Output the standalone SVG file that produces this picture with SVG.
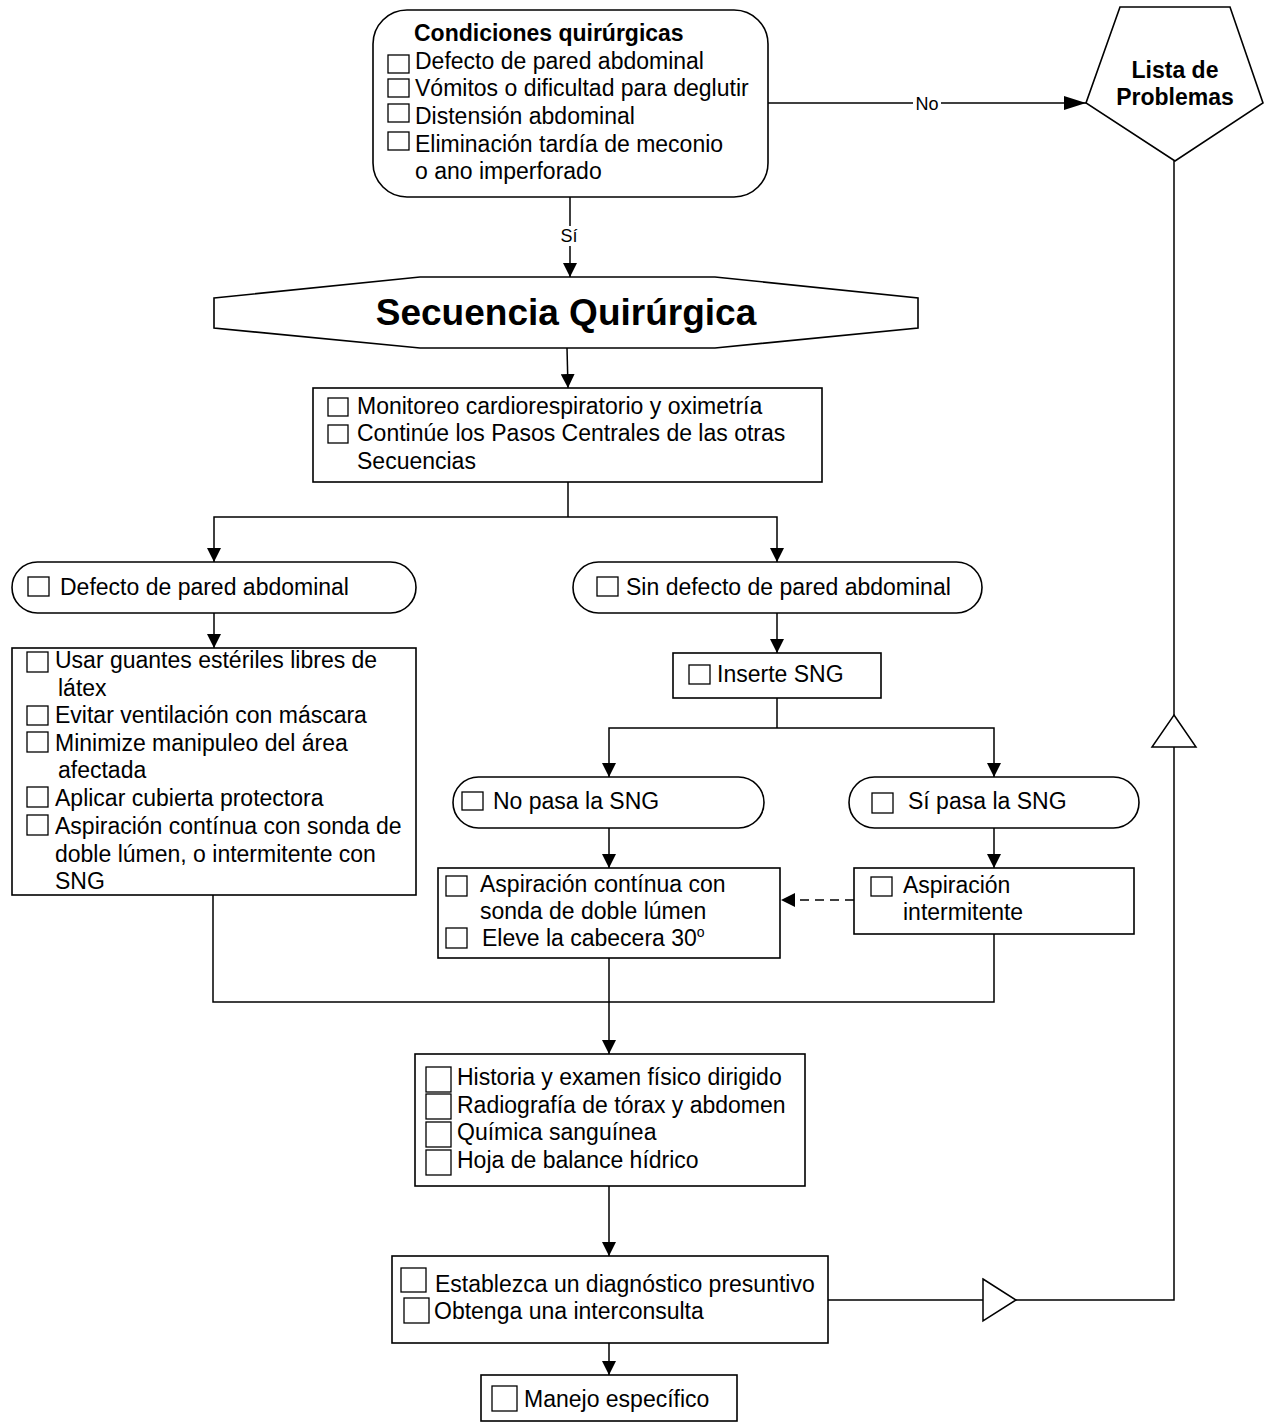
<svg xmlns="http://www.w3.org/2000/svg" width="1266" height="1422" viewBox="0 0 1266 1422">
<style>
.n{fill:#fff;stroke:#000;stroke-width:1.6}
.cb{fill:none;stroke:#000;stroke-width:1.3}
.t{font-family:"Liberation Sans",Arial,sans-serif;font-size:23px;fill:#000}
.b{font-weight:bold}
.c{fill:none;stroke:#000;stroke-width:1.5}
.lbl{font-family:"Liberation Sans",Arial,sans-serif;font-size:18px;fill:#000}
.tri{fill:#fff;stroke:#000;stroke-width:1.5}
</style>
<defs>
<marker id="ah" markerUnits="userSpaceOnUse" markerWidth="14" markerHeight="14" viewBox="0 0 14 14" refX="14" refY="7" orient="auto">
<path d="M0,0 L14,7 L0,14 z" fill="#000"/>
</marker>
<marker id="ahb" markerUnits="userSpaceOnUse" markerWidth="22" markerHeight="14" viewBox="0 0 22 14" refX="22" refY="7" orient="auto">
<path d="M0,0 L22,7 L0,14 z" fill="#000"/>
</marker>
</defs>
<rect width="1266" height="1422" fill="#fff"/>

<g id="connectors">
<path class="c" d="M768,103 H1086" marker-end="url(#ahb)"/>
<rect x="913" y="93" width="28" height="20" fill="#fff"/>
<text class="lbl" x="927" y="110" text-anchor="middle">No</text>
<path class="c" d="M570,197 V277" marker-end="url(#ah)"/>
<rect x="558" y="226" width="24" height="20" fill="#fff"/>
<text class="lbl" x="569" y="242" text-anchor="middle">Sí</text>
<path class="c" d="M567,348 L568,388" marker-end="url(#ah)"/>
<path class="c" d="M568,482 V517"/>
<path class="c" d="M568,517 H214 V562" marker-end="url(#ah)"/>
<path class="c" d="M568,517 H777 V562" marker-end="url(#ah)"/>
<path class="c" d="M214,613 V648" marker-end="url(#ah)"/>
<path class="c" d="M777,613 V653" marker-end="url(#ah)"/>
<path class="c" d="M777,698 V728"/>
<path class="c" d="M777,728 H609 V777" marker-end="url(#ah)"/>
<path class="c" d="M777,728 H994 V777" marker-end="url(#ah)"/>
<path class="c" d="M609,828 V868" marker-end="url(#ah)"/>
<path class="c" d="M994,828 V868" marker-end="url(#ah)"/>
<path class="c" d="M854,900 H781" stroke-dasharray="9,6" marker-end="url(#ah)"/>
<path class="c" d="M213,895 V1002 H994 V934"/>
<path class="c" d="M609,958 V1054" marker-end="url(#ah)"/>
<path class="c" d="M609,1186 V1256" marker-end="url(#ah)"/>
<path class="c" d="M609,1343 V1375" marker-end="url(#ah)"/>
<path class="c" d="M828,1300 H1174 V161"/>
<polygon class="tri" points="983,1279 1016,1300 983,1321"/>
<polygon class="tri" points="1174,715 1196,747 1152,747"/>
</g>

<g id="condiciones">
<rect class="n" x="373" y="10" width="395" height="187" rx="34"/>
<text class="t b" x="414" y="41">Condiciones quirúrgicas</text>
<rect class="cb" x="388" y="55" width="21" height="18"/>
<rect class="cb" x="388" y="79" width="21" height="18"/>
<rect class="cb" x="388" y="104" width="21" height="18"/>
<rect class="cb" x="388" y="132" width="21" height="18"/>
<text class="t" x="415" y="69">Defecto de pared abdominal</text>
<text class="t" x="415" y="96">Vómitos o dificultad para deglutir</text>
<text class="t" x="415" y="124">Distensión abdominal</text>
<text class="t" x="415" y="152">Eliminación tardía de meconio</text>
<text class="t" x="415" y="179">o ano imperforado</text>
</g>

<g id="lista">
<polygon class="n" points="1120,7 1230,7 1263,103 1175,161 1086,103"/>
<text class="t b" x="1175" y="78" text-anchor="middle">Lista de</text>
<text class="t b" x="1175" y="105" text-anchor="middle">Problemas</text>
</g>

<g id="secuencia">
<polygon class="n" points="214,298 420,277 715,277 918,298 918,328 715,348 420,348 214,328"/>
<text class="t b" x="566" y="325" text-anchor="middle" style="font-size:37px">Secuencia Quirúrgica</text>
</g>

<g id="monitoreo">
<rect class="n" x="313" y="388" width="509" height="94"/>
<rect class="cb" x="328" y="398" width="20" height="18"/>
<rect class="cb" x="328" y="425" width="20" height="18"/>
<text class="t" x="357" y="414">Monitoreo cardiorespiratorio y oximetría</text>
<text class="t" x="357" y="441">Continúe los Pasos Centrales de las otras</text>
<text class="t" x="357" y="469">Secuencias</text>
</g>

<g id="defecto">
<rect class="n" x="12" y="562" width="404" height="51" rx="25.5"/>
<rect class="cb" x="28" y="577" width="21" height="19"/>
<text class="t" x="60" y="595">Defecto de pared abdominal</text>
</g>

<g id="sindefecto">
<rect class="n" x="573" y="562" width="409" height="51" rx="25.5"/>
<rect class="cb" x="597" y="577" width="21" height="19"/>
<text class="t" x="626" y="595">Sin defecto de pared abdominal</text>
</g>

<g id="medidas">
<rect class="n" x="12" y="648" width="404" height="247"/>
<rect class="cb" x="27" y="652" width="21" height="20"/>
<rect class="cb" x="27" y="706" width="21" height="19"/>
<rect class="cb" x="27" y="732" width="21" height="20"/>
<rect class="cb" x="27" y="787" width="21" height="20"/>
<rect class="cb" x="27" y="815" width="21" height="20"/>
<text class="t" x="55" y="668">Usar guantes estériles libres de</text>
<text class="t" x="58" y="696">látex</text>
<text class="t" x="55" y="723">Evitar ventilación con máscara</text>
<text class="t" x="55" y="751">Minimize manipuleo del área</text>
<text class="t" x="58" y="778">afectada</text>
<text class="t" x="55" y="806">Aplicar cubierta protectora</text>
<text class="t" x="55" y="834">Aspiración contínua con sonda de</text>
<text class="t" x="55" y="862">doble lúmen, o intermitente con</text>
<text class="t" x="55" y="889">SNG</text>
</g>

<g id="inserte">
<rect class="n" x="673" y="653" width="208" height="45"/>
<rect class="cb" x="689" y="665" width="21" height="19"/>
<text class="t" x="717" y="682">Inserte SNG</text>
</g>

<g id="nopasa">
<rect class="n" x="453" y="777" width="311" height="51" rx="25.5"/>
<rect class="cb" x="462" y="792" width="21" height="18"/>
<text class="t" x="493" y="809">No pasa la SNG</text>
</g>

<g id="sipasa">
<rect class="n" x="849" y="777" width="290" height="51" rx="25.5"/>
<rect class="cb" x="872" y="793" width="21" height="20"/>
<text class="t" x="908" y="809">Sí pasa la SNG</text>
</g>

<g id="aspcontinua">
<rect class="n" x="438" y="868" width="342" height="90"/>
<rect class="cb" x="446" y="876" width="21" height="20"/>
<rect class="cb" x="446" y="928" width="21" height="20"/>
<text class="t" x="480" y="892">Aspiración contínua con</text>
<text class="t" x="480" y="919">sonda de doble lúmen</text>
<text class="t" x="482" y="946">Eleve la cabecera 30<tspan dy="-9" style="font-size:14px">o</tspan></text>
</g>

<g id="aspintermitente">
<rect class="n" x="854" y="868" width="280" height="66"/>
<rect class="cb" x="871" y="877" width="21" height="19"/>
<text class="t" x="903" y="893">Aspiración</text>
<text class="t" x="903" y="920">intermitente</text>
</g>

<g id="historia">
<rect class="n" x="415" y="1054" width="390" height="132"/>
<rect class="cb" x="426" y="1067" width="25" height="25"/>
<rect class="cb" x="426" y="1094" width="25" height="25"/>
<rect class="cb" x="426" y="1122" width="25" height="25"/>
<rect class="cb" x="426" y="1150" width="25" height="25"/>
<text class="t" x="457" y="1085">Historia y examen físico dirigido</text>
<text class="t" x="457" y="1113">Radiografía de tórax y abdomen</text>
<text class="t" x="457" y="1140">Química sanguínea</text>
<text class="t" x="457" y="1168">Hoja de balance hídrico</text>
</g>

<g id="diagnostico">
<rect class="n" x="392" y="1256" width="436" height="87"/>
<rect class="cb" x="401" y="1268" width="25" height="24"/>
<rect class="cb" x="404" y="1298" width="25" height="25"/>
<text class="t" x="435" y="1292">Establezca un diagnóstico presuntivo</text>
<text class="t" x="434" y="1319">Obtenga una interconsulta</text>
</g>

<g id="manejo">
<rect class="n" x="481" y="1375" width="256" height="46"/>
<rect class="cb" x="492" y="1386" width="25" height="25"/>
<text class="t" x="524" y="1407">Manejo específico</text>
</g>
</svg>
